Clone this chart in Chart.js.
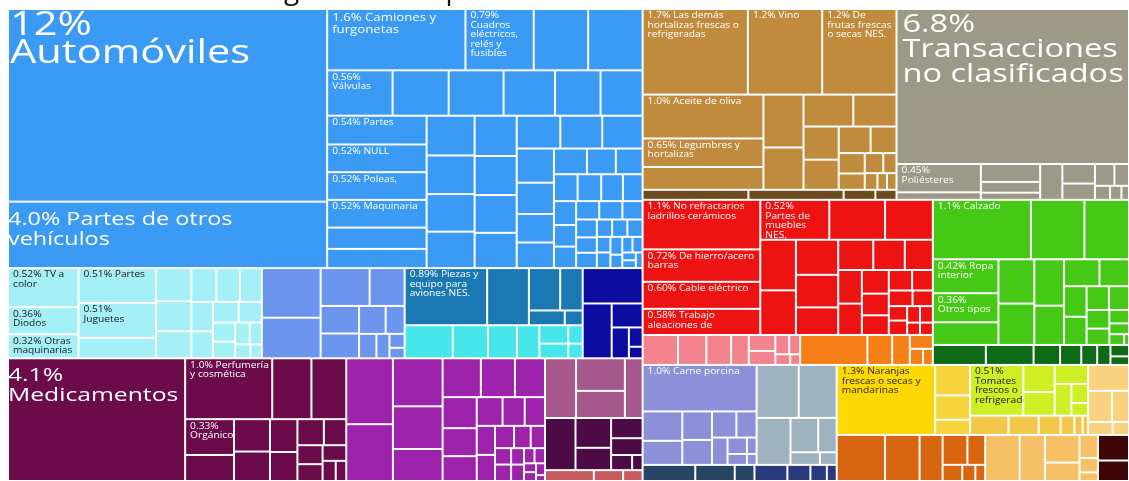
<!DOCTYPE html>
<html>
<head>
<meta charset="utf-8">
<script src="https://cdn.jsdelivr.net/npm/chart.js@4.4.0/dist/chart.umd.min.js"></script>
<style>
html,body{margin:0;padding:0;background:#fff;overflow:hidden}
#wrap{width:1129px;height:481px;position:relative}
</style>
</head>
<body>
<div id="wrap"><canvas id="treemap"></canvas></div>
<script>
// share of total exports, %
// machinery & transport (blue)
const vehicleShare=[11.6,4.0];
const vehicleNames=['Automóviles','Partes de otros vehículos'];
const blueTopShare=[1.6,0.79,0.63,0.63];
const blueTopNames=['Camiones y furgonetas','Cuadros eléctricos, relés y fusibles'];
const blueRow2Share=[0.56,0.48,0.47,0.44,0.39,0.36];
const blueRow2Names=['Válvulas'];
const blueLeftShare=[0.54,0.52,0.52,0.52,0.40,0.36];
const blueLeftNames=['Partes','NULL','Poleas,','Maquinaria'];
const blueSmallShare=[0.36,0.35,0.34,0.33,0.32,0.31,0.30,0.28,0.27,0.26,0.25,0.24,0.22,0.20,0.18,0.16,0.14,0.13,0.12,0.12,0.11,0.10,0.10,0.09,0.09,0.08,0.08,0.07,0.07,0.06,0.06,0.05,0.05,0.05,0.04,0.04,0.04,0.03,0.03,0.03,0.02,0.02,0.02];
// electronics, instruments, aircraft
const cyanLeftShare=[0.52,0.36,0.32];
const cyanLeftNames=['TV a color','Diodos','Otras maquinarias'];
const cyanMidShare=[0.51,0.51,0.30];
const cyanMidNames=['Partes','Juguetes'];
const cyanSmallShare=[0.22,0.20,0.18,0.16,0.15,0.14,0.12,0.11,0.10,0.09,0.08,0.07,0.06,0.05,0.04,0.03];
const periwinkleShare=[0.55,0.45,0.35,0.25,0.20,0.18,0.14,0.10,0.08,0.06,0.04,0.03];
const aircraftShare=[0.89];
const aircraftNames=['Piezas y equipo para aviones NES.'];
const steelShare=[0.45,0.25,0.18,0.10,0.05];
const aquaShare=[0.30,0.22,0.18,0.14,0.10,0.08,0.05,0.04];
const navyShare=[0.40,0.30,0.14,0.10,0.05,0.03];
// chemicals
const medShare=[4.1];
const medNames=['Medicamentos'];
const maroonTopShare=[1.0,0.45,0.40];
const maroonTopNames=['Perfumería y cosmética'];
const maroonShare=[0.33,0.24,0.22,0.20,0.17,0.15,0.13,0.11,0.09,0.08,0.07,0.05,0.04];
const maroonNames=['Orgánicos'];
const purpleShare=[0.58,0.50,0.45,0.40,0.30,0.28,0.25,0.22,0.20,0.18,0.16,0.14,0.12,0.11,0.10,0.09,0.08,0.07,0.06,0.05,0.05,0.04,0.04,0.03,0.03,0.02,0.02,0.02,0.01];
const mauveShare=[0.35,0.30,0.25,0.20];
const plumShare=[0.30,0.20,0.15,0.12,0.10,0.06,0.03];
const salmonShare=[0.10,0.06,0.04];
// vegetable products (brown)
const brownTopShare=[1.7,1.2,1.2];
const brownTopNames=['Las demás hortalizas frescas o refrigeradas','Vino','De frutas frescas o secas NES.'];
const brownLeftShare=[1.0,0.65,0.52];
const brownLeftNames=['Aceite de oliva','Legumbres y hortalizas'];
const brownSmallShare=[0.40,0.32,0.30,0.26,0.22,0.20,0.16,0.13,0.10,0.08,0.07,0.05,0.04,0.03,0.03];
const brownStripShare=[0.20,0.18,0.06,0.04];
// unclassified & plastics (grey)
const unclassifiedShare=[6.8];
const unclassifiedNames=['Transacciones no clasificados'];
const grayColShare=[0.45,0.12];
const grayColNames=['Poliésteres'];
const grayCol2Share=[0.20,0.12,0.08];
const grayShare=[0.15,0.12,0.10,0.08,0.06,0.04,0.03,0.02];
// stone, ceramics & metals (red)
const redLeftShare=[1.1,0.72,0.60,0.58];
const redLeftNames=['No refractarios ladrillos cerámicos','De hierro/acero barras','Cable eléctrico','Trabajo aleaciones de'];
const redTopShare=[0.52,0.42,0.36];
const redTopNames=['Partes de muebles NES.'];
const redSmallShare=[0.34,0.30,0.28,0.26,0.22,0.20,0.18,0.16,0.15,0.14,0.12,0.11,0.10,0.09,0.08,0.07,0.06,0.05,0.05,0.04,0.04,0.03,0.03];
const pinkShare=[0.20,0.16,0.14,0.10,0.08,0.07,0.05,0.04,0.03,0.02];
const orangeShare=[0.38,0.14,0.10,0.06,0.04,0.03];
// textiles (green)
const greenTopShare=[1.1,0.60,0.50];
const greenTopNames=['Calzado'];
const greenLeftShare=[0.42,0.36,0.28];
const greenLeftNames=['Ropa interior','Otros tipos'];
const greenSmallShare=[0.30,0.28,0.26,0.22,0.18,0.15,0.13,0.12,0.10,0.09,0.08,0.07,0.05,0.04,0.03,0.01];
const darkGreenShare=[0.20,0.18,0.10,0.08,0.06,0.05,0.04,0.03];
// animal & foodstuffs (bottom right)
const porkShare=[1.0];
const porkNames=['Carne porcina'];
const lavenderShare=[0.22,0.18,0.16,0.14,0.12,0.10,0.08,0.06,0.04,0.03,0.02];
const blueGrayShare=[0.42,0.38,0.30,0.18,0.12,0.07,0.04];
const slateShare=[0.16,0.12,0.06];
const navy2Share=[0.10,0.07,0.05,0.03];
const orangesShare=[1.3];
const orangesNames=['Naranjas frescas o secas y mandarinas'];
const yellowSideShare=[0.20,0.16,0.10];
const tomatoShare=[0.51];
const tomatoNames=['Tomates frescos o refrigerados'];
const yellowGreenShare=[0.16,0.14,0.12,0.10,0.06,0.04];
const yellowStripShare=[0.14,0.11,0.08,0.05,0.03,0.02];
const peachShare=[0.20,0.14,0.10,0.06,0.04];
const darkOrangeShare=[0.42,0.30,0.20,0.14,0.10,0.06,0.04,0.03];
const tanShare=[0.30,0.22,0.18,0.12,0.08,0.05,0.03];
const darkBrownShare=[0.15,0.12];

const titleText='Diagrama de exportaciones';

const styles={
  blue:{fill:'#3a9af4'},cyan:{fill:'#a5eff6',text:'#1a1a1a'},periwinkle:{fill:'#6c96ee'},
  steel:{fill:'#1c78b2'},aqua:{fill:'#46e6ea'},navy:{fill:'#0c0ca0'},
  maroon:{fill:'#6c0b4a'},purple:{fill:'#9d23ab'},mauve:{fill:'#a6578c'},plum:{fill:'#4d0b45'},salmon:{fill:'#c75b5e'},
  brown:{fill:'#c18b3d'},brownDark:{fill:'#6e4b1c'},gray:{fill:'#9c9a86'},
  red:{fill:'#ee1313'},pink:{fill:'#f3838f'},orange:{fill:'#f57f16'},
  green:{fill:'#46c916'},darkGreen:{fill:'#0e6a16'},
  lavender:{fill:'#8b90d8'},blueGray:{fill:'#9fb2c0'},slate:{fill:'#264664'},navy2:{fill:'#283a7c'},
  yellow:{fill:'#fdd806',text:'#2a2a00'},yellowLight:{fill:'#f6d43c'},yellowGreen:{fill:'#cfee24',text:'#1a1a1a'},
  yellowStrip:{fill:'#f3c84a'},
  peach:{fill:'#f8d27e'},darkOrange:{fill:'#d8650f'},tan:{fill:'#f6c166'},darkBrown:{fill:'#3d0707'}
};
const bigLabels={
  'Automóviles':{size:32,lh:28,base:26,dx:2},
  'Partes de otros vehículos':{size:18,lh:20,base:23,dx:0},
  'Medicamentos':{size:19,lh:20,base:23,dx:0},
  'Transacciones no clasificados':{size:25,lh:25,base:23,dx:6}
};
const smallSize={'Camiones y furgonetas':11};
const SX_BIG=1.3, SX_SMALL=1.2; // labels in the source are drawn wide

const H=(...k)=>({dir:'h',kids:k});
const V=(...k)=>({dir:'v',kids:k});
const G=(mode,vals,names,style)=>({mode,vals,names:names||[],style});

const tree=H(
  V(
    H(G('v',vehicleShare,vehicleNames,'blue'),
      V(G('h',blueTopShare,blueTopNames,'blue'),G('h',blueRow2Share,blueRow2Names,'blue'),
        H(G('v',blueLeftShare,blueLeftNames,'blue'),G('sq',blueSmallShare,null,'blue')))),
    H(H(G('v',cyanLeftShare,cyanLeftNames,'cyan'),G('v',cyanMidShare,cyanMidNames,'cyan'),G('sq',cyanSmallShare,null,'cyan')),
      G('sq',periwinkleShare,null,'periwinkle'),
      V(H(G('v',aircraftShare,aircraftNames,'steel'),G('sq',steelShare,null,'steel')),G('sq',aquaShare,null,'aqua')),
      G('sq',navyShare,null,'navy')),
    H(H(G('v',medShare,medNames,'maroon'),V(G('h',maroonTopShare,maroonTopNames,'maroon'),G('sq',maroonShare,maroonNames,'maroon'))),
      G('sq',purpleShare,null,'purple'),
      V(G('sq',mauveShare,null,'mauve'),G('sq',plumShare,null,'plum'),G('sq',salmonShare,null,'salmon')))
  ),
  V(
    H(V(G('h',brownTopShare,brownTopNames,'brown'),
        H(G('v',brownLeftShare,brownLeftNames,'brown'),G('sq',brownSmallShare,null,'brown')),
        G('h',brownStripShare,null,'brownDark')),
      V(G('v',unclassifiedShare,unclassifiedNames,'gray'),
        H(G('v',grayColShare,grayColNames,'gray'),G('v',grayCol2Share,null,'gray'),G('sq',grayShare,null,'gray')))),
    H(V(H(G('v',redLeftShare,redLeftNames,'red'),V(G('h',redTopShare,redTopNames,'red'),G('sq',redSmallShare,null,'red'))),
        H(G('sq',pinkShare,null,'pink'),G('sq',orangeShare,null,'orange'))),
      V(V(G('h',greenTopShare,greenTopNames,'green'),H(G('v',greenLeftShare,greenLeftNames,'green'),G('sq',greenSmallShare,null,'green'))),
        G('sq',darkGreenShare,null,'darkGreen'))),
    H(V(H(V(G('v',porkShare,porkNames,'lavender'),G('sq',lavenderShare,null,'lavender')),G('sq',blueGrayShare,null,'blueGray')),
        H(G('sq',slateShare,null,'slate'),G('sq',navy2Share,null,'navy2'))),
      V(H(H(G('v',orangesShare,orangesNames,'yellow'),G('v',yellowSideShare,null,'yellowLight')),
          V(H(G('v',tomatoShare,tomatoNames,'yellowGreen'),G('sq',yellowGreenShare,null,'yellowGreen')),G('h',yellowStripShare,null,'yellowStrip')),
          G('sq',peachShare,null,'peach')),
        H(G('sq',darkOrangeShare,null,'darkOrange'),G('sq',tanShare,null,'tan'),G('sq',darkBrownShare,null,'darkBrown'))))
  )
);

function total(n){return n.kids?n.kids.reduce((s,k)=>s+total(k),0):n.vals.reduce((s,v)=>s+v,0);}
function slice(vals,dir,r){
  const tot=vals.reduce((s,v)=>s+v,0);
  let off=0;
  return vals.map(v=>{
    const f=v/tot;
    const rr=dir==='h'?{x:r.x+off*r.w,y:r.y,w:f*r.w,h:r.h}:{x:r.x,y:r.y+off*r.h,w:r.w,h:f*r.h};
    off+=f;
    return rr;
  });
}
function squarify(vals,r){
  const tot=vals.reduce((s,v)=>s+v,0);
  const k=r.w*r.h/tot;
  const order=vals.map((v,i)=>i).sort((a,b)=>vals[b]-vals[a]);
  const res=[];
  let {x,y,w,h}=r,i=0;
  const worst=(sum,mn,mx,side)=>Math.max(side*side*mx/(sum*sum),sum*sum/(side*side*mn));
  while(i<order.length){
    const side=Math.min(w,h);
    const row=[order[i]];
    let sum=vals[order[i]]*k,mn=sum,mx=sum,cur=worst(sum,mn,mx,side),j=i+1;
    while(j<order.length){
      const a=vals[order[j]]*k;
      const nw=worst(sum+a,Math.min(mn,a),Math.max(mx,a),side);
      if(nw>cur)break;
      row.push(order[j]);sum+=a;mn=Math.min(mn,a);mx=Math.max(mx,a);cur=nw;j++;
    }
    const t=sum/side;
    let off=0;
    row.forEach(idx=>{
      const len=vals[idx]*k/t;
      res[idx]=w>=h?{x:x,y:y+off,w:t,h:len}:{x:x+off,y:y,w:len,h:t};
      off+=len;
    });
    if(w>=h){x+=t;w-=t;}else{y+=t;h-=t;}
    i=j;
  }
  return res;
}
function layout(n,r,out){
  if(n.kids){
    slice(n.kids.map(total),n.dir,r).forEach((rr,i)=>layout(n.kids[i],rr,out));
    return;
  }
  const rects=n.mode==='sq'?squarify(n.vals,r):slice(n.vals,n.mode,r);
  rects.forEach((rr,i)=>out.push(Object.assign(rr,{v:n.vals[i],name:n.names[i],style:n.style})));
}

function drawLabel(ctx,b,c){
  const big=bigLabels[c.name];
  const size=big?big.size:(smallSize[c.name]||8.5);
  const lh=big?big.lh:size*1.12;
  const dx=big?big.dx:5, base=big?big.base:size*1.1;
  const sx=big?SX_BIG:SX_SMALL;
  ctx.save();
  ctx.beginPath();ctx.rect(b.x,b.y,b.w,b.h);ctx.clip();
  ctx.font=size+'px "Open Sans"';
  ctx.textBaseline='alphabetic';
  ctx.fillStyle=styles[c.style].text||'#fff';
  const words=(c.v.toPrecision(2)+'% '+c.name).split(' ');
  const maxW=(b.w-dx-3)/sx;
  const lines=[];let line='';
  words.forEach(wd=>{
    const t=line?line+' '+wd:wd;
    if(line&&ctx.measureText(t).width>maxW){lines.push(line);line=wd;}else line=t;
  });
  if(line)lines.push(line);
  ctx.translate(b.x+dx,b.y+base);ctx.scale(sx,1);
  lines.forEach((l,i)=>ctx.fillText(l,0,i*lh));
  ctx.restore();
}

const treemapPlugin={
  id:'treemap',
  afterDatasetsDraw(chart){
    const {ctx,chartArea:a,scales:{x,y}}=chart;
    const cells=[];
    layout(tree,{x:0,y:0,w:a.width,h:a.height},cells);
    const boxes=cells.map(c=>{
      const x0=x.getPixelForValue(c.x/a.width),x1=x.getPixelForValue((c.x+c.w)/a.width);
      const y0=y.getPixelForValue(c.y/a.height),y1=y.getPixelForValue((c.y+c.h)/a.height);
      return {x:x0,y:y0,w:x1-x0,h:y1-y0};
    });
    ctx.save();
    cells.forEach((c,i)=>{
      const b=boxes[i];
      ctx.fillStyle=styles[c.style].fill;
      ctx.fillRect(b.x+1,b.y+1,Math.max(0,b.w-2),Math.max(0,b.h-2));
    });
    cells.forEach((c,i)=>{if(c.name)drawLabel(ctx,boxes[i],c);});
    // title line above the treemap, cut off by the top of the picture
    ctx.font='28px "Open Sans"';
    ctx.fillStyle='#111';
    ctx.textBaseline='alphabetic';
    ctx.textAlign='left';
    const gx=284-ctx.measureText('Dia').width;
    ctx.fillText(titleText,gx,-1);
    ctx.restore();
  }
};

new Chart(document.getElementById('treemap'),{
  type:'scatter',
  data:{datasets:[{data:[]}]},
  options:{
    responsive:true,maintainAspectRatio:false,animation:false,
    layout:{padding:{left:8,top:9,right:0,bottom:0}},
    plugins:{legend:{display:false},tooltip:{enabled:false}},
    scales:{
      x:{type:'linear',min:0,max:1,display:false},
      y:{type:'linear',min:0,max:1,reverse:true,display:false}
    }
  },
  plugins:[treemapPlugin]
});
</script>
</body>
</html>
